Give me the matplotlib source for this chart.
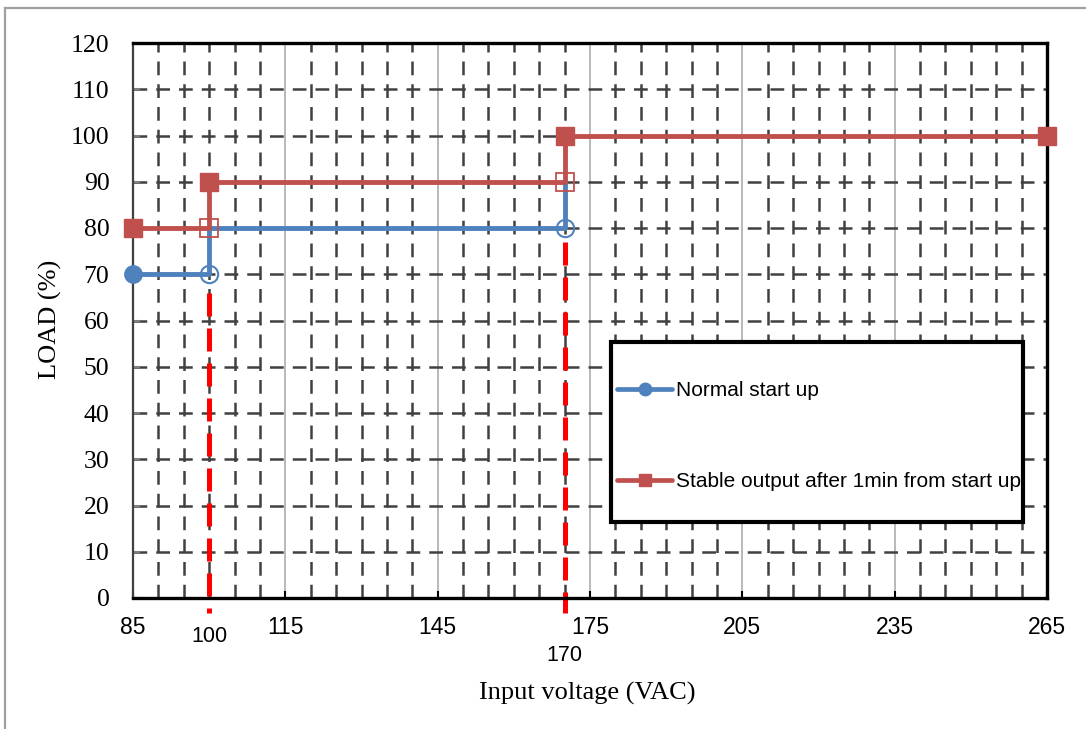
import numpy as np
import matplotlib
matplotlib.use('Agg')
import matplotlib.pyplot as plt
from matplotlib.lines import Line2D
from matplotlib.patches import Rectangle

# data
normal_v = [85, 100, 100, 170, 170]
normal_load = [70, 70, 80, 80, 90]
normal_filled = [0]
normal_open = [1, 3]

stable_v = [85, 100, 100, 170, 170, 265]
stable_load = [80, 80, 90, 90, 100, 100]
stable_filled = [0, 2, 4, 5]
stable_open = [1, 3]

marker_v = [100, 170]          # red dashed threshold lines
marker_top = [66, 77]
x_ticks = [85, 115, 145, 175, 205, 235, 265]
y_ticks = list(range(0, 121, 10))
labels = ['Normal start up', 'Stable output after 1min from start up']

BLUE = '#4F81BD'
RED = '#C0504D'
SERIF = 'Liberation Serif'
SANS = 'Liberation Sans'

W, H = 1086, 729
fig = plt.figure(figsize=(W / 100, H / 100), dpi=100)
ax = fig.add_axes([133 / W, 1 - 598 / H, (1047 - 133) / W, (598 - 43) / H])

ax.set_xlim(85, 265)
ax.set_ylim(0, 120)

# grid: solid grey at major x, dashed dark every 5 V and every 10 %
for v in x_ticks[1:-1]:
    ax.axvline(v, color='#A6A6A6', lw=1.1, zorder=1)
for v in np.arange(90, 265, 5):
    if v in x_ticks:
        continue
    ax.axvline(v, color='#404040', lw=1.8, dashes=(5.5, 3.6), zorder=1)
for y in y_ticks[1:-1]:
    ax.axhline(y, color='#404040', lw=1.8, dashes=(5.5, 3.6), zorder=1)

# threshold lines
for v, top in zip(marker_v, marker_top):
    ax.plot([v, v], [top, -3.3], color='#FF0000', lw=3.6, dashes=(4.6, 2.4),
            clip_on=False, zorder=2)

# series
ax.plot(normal_v, normal_load, color=BLUE, lw=3.5, solid_joinstyle='round',
        solid_capstyle='round', zorder=3)
ax.plot(normal_v, normal_load, ls='none', marker='o', ms=12.5, color=BLUE,
        markevery=normal_filled, zorder=4, clip_on=False)
ax.plot(normal_v, normal_load, ls='none', marker='o', ms=12.5, mfc='none',
        mec=BLUE, mew=1.5, markevery=normal_open, zorder=4)

ax.plot(stable_v, stable_load, color=RED, lw=3.5, solid_joinstyle='round',
        zorder=5)
ax.plot(stable_v, stable_load, ls='none', marker='s', ms=13.5, color=RED,
        markevery=stable_filled, zorder=6, clip_on=False)
ax.plot(stable_v, stable_load, ls='none', marker='s', ms=13.5, mfc='none',
        mec=RED, mew=1.3, markevery=stable_open, zorder=6)

# spines
ax.spines['left'].set_color('#404040')
ax.spines['left'].set_linewidth(1.6)
for s in ['top', 'right', 'bottom']:
    ax.spines[s].set_color('black')
    ax.spines[s].set_linewidth(2.4)

ax.set_xticks(x_ticks)
ax.set_yticks(y_ticks)
ax.tick_params(axis='x', direction='in', length=5, width=1.5, color='black',
               pad=13, labelsize=16.5)
ax.tick_params(axis='y', direction='in', length=5, width=1.5, color='#808080',
               pad=17, labelsize=18.5)
for lab in ax.get_xticklabels():
    lab.set_family(SANS)
for lab in ax.get_yticklabels():
    lab.set_family(SERIF)

# extra voltage labels
ax.text(100, -8.4, '100', ha='center', va='center', fontsize=15.5, family=SANS)
ax.text(170, -12.5, '170', ha='center', va='center', fontsize=15.5, family=SANS)

fig.text(587 / W, 1 - 693 / H, 'Input voltage (VAC)', ha='center', va='center',
         fontsize=19, family=SERIF)
fig.text(50 / W, 1 - 319 / H, 'LOAD (%)', ha='center', va='center',
         rotation=90, fontsize=19, family=SERIF)

# legend: box drawn by hand, entries placed inside it
fig.add_artist(Rectangle((611 / W, 1 - 522 / H), (1023 - 611) / W,
                         (522 - 342) / H, transform=fig.transFigure,
                         facecolor='white', edgecolor='black', lw=3,
                         zorder=9))
handles = [
    Line2D([], [], color=BLUE, lw=3.4, marker='o', ms=9,
           solid_capstyle='round'),
    Line2D([], [], color=RED, lw=3.4, marker='s', ms=9,
           solid_capstyle='round'),
]
leg = fig.legend(handles, labels, loc='upper left',
                 bbox_to_anchor=(617 / W, 1 - 381 / H), borderaxespad=0,
                 borderpad=0, prop={'family': SANS, 'size': 15}, numpoints=1,
                 handlelength=2.65, handletextpad=0.2, labelspacing=3.45,
                 frameon=False)
leg.set_zorder(10)

# outer chart border (clipped at the image edge)
fig.add_artist(Line2D([5 / W, 1], [1 - 8 / H, 1 - 8 / H], color='#A0A0A0',
                      lw=1.6, transform=fig.transFigure))
fig.add_artist(Line2D([5 / W, 5 / W], [1 - 8 / H, 0], color='#A0A0A0',
                      lw=1.6, transform=fig.transFigure))

fig.savefig('out.png', dpi=100)
